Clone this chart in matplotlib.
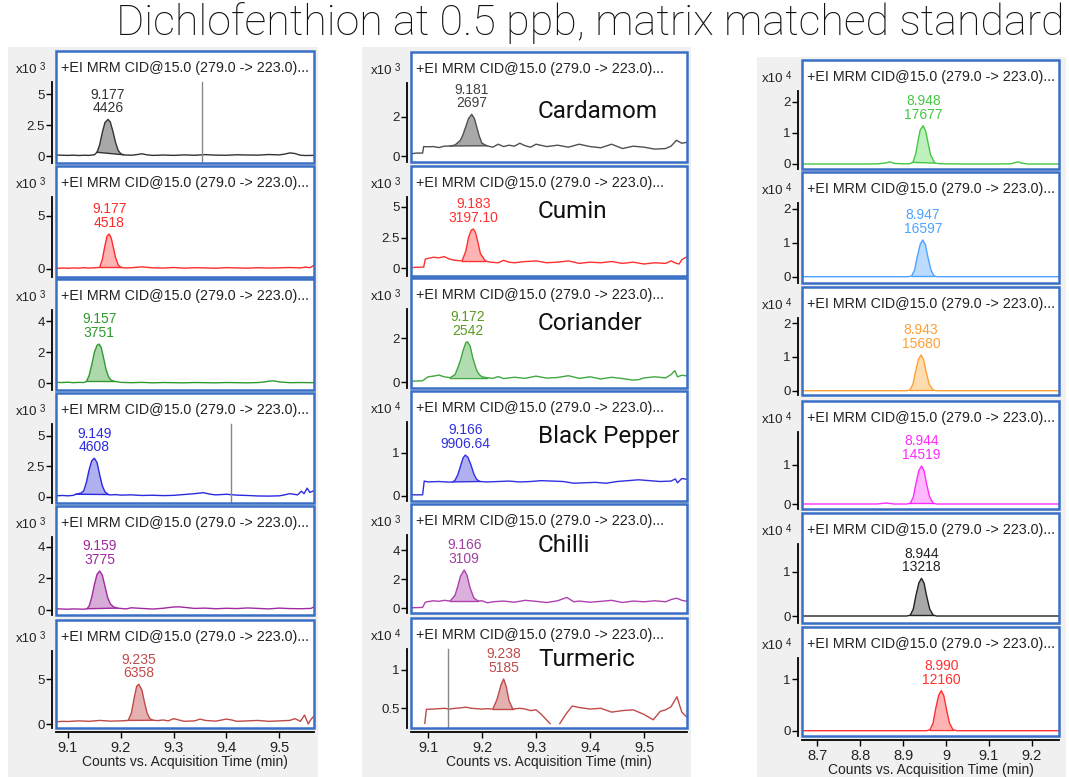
import numpy as np
import matplotlib
matplotlib.use('Agg')
import matplotlib.pyplot as plt
from matplotlib.patches import Rectangle
from matplotlib.ticker import FuncFormatter

# --------------------------------------------
# data
# left column
L1_T = [9.078, 9.09, 9.10, 9.11, 9.12, 9.13, 9.14, 9.15, 9.155, 9.16, 9.165, 9.17, 9.176, 9.18, 9.185, 9.19,
        9.195, 9.20, 9.205, 9.21, 9.22, 9.23, 9.24, 9.25, 9.26, 9.27, 9.28, 9.30, 9.32, 9.34, 9.36, 9.38, 9.40,
        9.42, 9.44, 9.46, 9.48, 9.50, 9.51, 9.52, 9.53, 9.54, 9.55, 9.566]
L1_Y = [80, 60, 50, 70, 40, 60, 50, 100, 300, 900, 1900, 2700, 2950, 2750, 2000, 1100,
        450, 180, 100, 80, 60, 110, 180, 90, 50, 60, 80, 50, 90, 60, 110, 70, 60,
        100, 80, 70, 120, 90, 150, 250, 200, 60, 40, 50]
L2_T = [9.078, 9.09, 9.10, 9.11, 9.12, 9.13, 9.14, 9.15, 9.16, 9.165, 9.17, 9.174, 9.178, 9.182, 9.186, 9.19,
        9.195, 9.20, 9.21, 9.22, 9.24, 9.26, 9.28, 9.30, 9.32, 9.34, 9.36, 9.38, 9.40, 9.42, 9.44, 9.46, 9.48,
        9.50, 9.52, 9.54, 9.55, 9.558, 9.566]
L2_Y = [60, 90, 70, 100, 80, 120, 90, 110, 150, 900, 2200, 3100, 3300, 2900, 2000, 1100,
        400, 150, 100, 120, 200, 110, 90, 140, 80, 120, 100, 70, 130, 100, 80, 120, 90,
        110, 140, 100, 180, 120, 350]
L3_T = [9.078, 9.09, 9.10, 9.11, 9.12, 9.13, 9.135, 9.14, 9.145, 9.15, 9.155, 9.159, 9.163, 9.167, 9.172,
        9.177, 9.182, 9.188, 9.195, 9.20, 9.21, 9.22, 9.24, 9.26, 9.28, 9.30, 9.32, 9.34, 9.36, 9.38, 9.40,
        9.42, 9.44, 9.46, 9.47, 9.48, 9.49, 9.50, 9.52, 9.54, 9.566]
L3_Y = [60, 50, 70, 40, 60, 50, 120, 500, 1200, 2000, 2450, 2530, 2300, 1700, 900,
        400, 200, 120, 90, 60, 50, 40, 60, 30, 50, 40, 30, 50, 40, 30, 50,
        40, 30, 50, 80, 130, 160, 90, 40, 50, 40]
L4_T = [9.078, 9.09, 9.10, 9.11, 9.115, 9.12, 9.125, 9.13, 9.135, 9.14, 9.145, 9.150, 9.155, 9.16, 9.165,
        9.17, 9.176, 9.18, 9.19, 9.20, 9.22, 9.24, 9.26, 9.28, 9.30, 9.32, 9.34, 9.356, 9.37, 9.38, 9.40,
        9.42, 9.44, 9.46, 9.48, 9.49, 9.50, 9.51, 9.52, 9.535, 9.542, 9.547, 9.553, 9.558, 9.566]
L4_Y = [80, 100, 70, 110, 200, 250, 300, 500, 1200, 2200, 2950, 3150, 2800, 1800, 900,
        400, 180, 150, 170, 130, 150, 100, 120, 90, 110, 180, 250, 330, 200, 150, 200,
        130, 100, 60, 50, 60, 70, 150, 250, 150, 450, 250, 700, 350, 500]
L5_T = [9.078, 9.09, 9.10, 9.11, 9.12, 9.13, 9.136, 9.14, 9.145, 9.15, 9.155, 9.160, 9.165, 9.17, 9.175,
        9.18, 9.186, 9.193, 9.20, 9.21, 9.22, 9.24, 9.26, 9.28, 9.30, 9.31, 9.32, 9.34, 9.36, 9.38, 9.40,
        9.42, 9.44, 9.46, 9.48, 9.50, 9.52, 9.54, 9.56, 9.566]
L5_Y = [80, 60, 50, 70, 60, 50, 80, 250, 800, 1600, 2250, 2460, 2200, 1500, 800,
        400, 200, 120, 100, 70, 140, 100, 60, 110, 190, 200, 170, 100, 120, 80, 110,
        90, 130, 100, 70, 120, 90, 80, 100, 200]
L6_T = [9.078, 9.09, 9.10, 9.12, 9.14, 9.16, 9.18, 9.20, 9.214, 9.22, 9.225, 9.23, 9.234, 9.24, 9.245, 9.25,
        9.255, 9.261, 9.27, 9.28, 9.29, 9.30, 9.31, 9.32, 9.34, 9.35, 9.36, 9.38, 9.40, 9.41, 9.42, 9.44,
        9.46, 9.48, 9.50, 9.52, 9.53, 9.54, 9.548, 9.555, 9.56, 9.566]
L6_Y = [250, 300, 280, 350, 300, 400, 320, 350, 400, 1200, 2800, 4200, 4450, 3800, 2400, 1200,
        600, 420, 380, 450, 350, 600, 450, 300, 350, 550, 400, 320, 550, 450, 300, 350,
        400, 300, 350, 400, 600, 300, 1000, 0, 500, 900]

# middle column (spice matrices)
M1_T = [9.069, 9.08, 9.09, 9.092, 9.10, 9.11, 9.12, 9.13, 9.141, 9.15, 9.16, 9.165, 9.17, 9.175, 9.181,
        9.186, 9.19, 9.195, 9.20, 9.209, 9.22, 9.23, 9.24, 9.25, 9.26, 9.27, 9.28, 9.29, 9.30, 9.32, 9.34,
        9.36, 9.38, 9.40, 9.42, 9.44, 9.46, 9.48, 9.50, 9.52, 9.54, 9.55, 9.56, 9.57, 9.58]
M1_Y = [120, 150, 150, 480, 470, 480, 430, 500, 510, 560, 800, 1100, 1500, 1900, 2120,
        1900, 1500, 1000, 650, 520, 450, 600, 480, 550, 500, 650, 520, 450, 600, 480, 550,
        450, 600, 480, 420, 600, 380, 500, 450, 350, 380, 500, 800, 650, 700]
M2_T = [9.069, 9.08, 9.092, 9.095, 9.10, 9.11, 9.12, 9.13, 9.14, 9.15, 9.163, 9.17, 9.175, 9.18, 9.184,
        9.188, 9.192, 9.197, 9.206, 9.215, 9.23, 9.24, 9.25, 9.26, 9.28, 9.30, 9.32, 9.34, 9.36, 9.38, 9.40,
        9.42, 9.44, 9.46, 9.48, 9.50, 9.52, 9.54, 9.55, 9.56, 9.565, 9.57, 9.58]
M2_Y = [60, 80, 100, 750, 800, 900, 850, 950, 750, 650, 600, 1400, 2500, 3100, 3200,
        2900, 2200, 1200, 600, 500, 450, 650, 500, 450, 550, 600, 450, 500, 600, 400, 500,
        450, 550, 400, 500, 350, 450, 400, 600, 400, 350, 700, 950]
M3_T = [9.069, 9.08, 9.09, 9.10, 9.11, 9.12, 9.13, 9.141, 9.15, 9.155, 9.16, 9.165, 9.17, 9.173, 9.178,
        9.183, 9.19, 9.195, 9.20, 9.209, 9.22, 9.23, 9.24, 9.26, 9.28, 9.30, 9.32, 9.34, 9.36, 9.38, 9.40,
        9.42, 9.44, 9.46, 9.48, 9.49, 9.50, 9.52, 9.54, 9.55, 9.557, 9.562, 9.57, 9.58]
M3_Y = [50, 60, 70, 250, 280, 330, 250, 210, 350, 650, 1000, 1450, 1800, 1845, 1650,
        1100, 550, 350, 250, 210, 180, 260, 170, 230, 180, 280, 190, 220, 300, 180, 250,
        150, 230, 170, 100, 120, 200, 250, 200, 350, 530, 250, 320, 290]
M4_T = [9.069, 9.08, 9.09, 9.093, 9.10, 9.12, 9.14, 9.146, 9.15, 9.155, 9.16, 9.165, 9.169, 9.174, 9.18,
        9.185, 9.19, 9.196, 9.21, 9.23, 9.25, 9.27, 9.29, 9.31, 9.33, 9.35, 9.37, 9.39, 9.41, 9.43, 9.45,
        9.47, 9.49, 9.51, 9.53, 9.55, 9.558, 9.562, 9.57, 9.58]
M4_Y = [200, 200, 200, 3400, 3200, 3300, 3150, 3200, 3600, 4800, 6800, 8800, 9450, 8900, 7000,
        5000, 3800, 3300, 3200, 3300, 3400, 3200, 3300, 3500, 3400, 3300, 2900, 3000, 3100, 2900, 3300,
        3500, 3700, 3500, 3300, 3400, 3900, 3000, 4000, 3800]
M5_T = [9.069, 9.08, 9.09, 9.095, 9.10, 9.11, 9.12, 9.13, 9.141, 9.15, 9.155, 9.16, 9.167, 9.172, 9.178,
        9.185, 9.193, 9.20, 9.21, 9.22, 9.24, 9.26, 9.28, 9.30, 9.32, 9.34, 9.357, 9.37, 9.38, 9.40, 9.42,
        9.44, 9.46, 9.48, 9.50, 9.52, 9.54, 9.55, 9.56, 9.57, 9.58]
M5_Y = [40, 50, 60, 420, 460, 520, 480, 550, 500, 900, 1500, 2200, 2640, 2300, 1400,
        700, 500, 520, 380, 450, 500, 420, 550, 480, 400, 520, 750, 450, 500, 420, 480,
        550, 400, 500, 450, 520, 450, 600, 700, 550, 480]
M6_T = [9.094, 9.097, 9.11, 9.12, 9.13, 9.14, 9.15, 9.16, 9.17, 9.18, 9.19, 9.20, 9.21, 9.220, 9.228,
        9.235, 9.240, 9.245, 9.25, 9.257, 9.27, 9.28, 9.29, 9.30, 9.31, 9.326, 9.335, 9.344, 9.355, 9.367,
        9.38, 9.40, 9.42, 9.44, 9.46, 9.48, 9.50, 9.517, 9.53, 9.54, 9.55, 9.561, 9.57, 9.58]
M6_Y = [3040, 4870, 4900, 4950, 5000, 4900, 5000, 5050, 5150, 5000, 4950, 4900, 4950, 4900, 6200,
        8000, 8830, 7800, 6000, 4900, 5000, 4900, 4700, 4800, 4200, 3000, np.nan, 3000, 4200, 5300,
        5100, 4900, 5000, 4500, 4700, 4800, 4200, 3500, 4600, 4800, 5200, 6500, 4500, 3800]

# right column
R1_T = [8.665, 8.70, 8.75, 8.80, 8.84, 8.86, 8.87, 8.88, 8.90, 8.915, 8.923, 8.93, 8.935, 8.94, 8.947,
        8.953, 8.958, 8.964, 8.974, 8.985, 9.00, 9.05, 9.10, 9.15, 9.16, 9.167, 9.175, 9.19, 9.22, 9.263]
R1_Y = [0, 0, 0, 0, 50, 350, 700, 200, 50, 100, 500, 3500, 7500, 11000, 12350,
        10500, 7000, 3000, 300, 100, 50, 0, 0, 50, 400, 700, 350, 0, 0, 0]
R2_T = [8.665, 8.75, 8.85, 8.90, 8.912, 8.920, 8.927, 8.933, 8.94, 8.946, 8.952, 8.958, 8.965, 8.972,
        8.98, 9.00, 9.10, 9.20, 9.263]
R2_Y = [0, 0, 0, 0, 0, 200, 2000, 5800, 9500, 10800, 9400, 5700, 2000, 200, 0, 0, 0, 0, 0]
R3_T = [8.665, 8.75, 8.85, 8.90, 8.908, 8.916, 8.923, 8.929, 8.936, 8.942, 8.948, 8.954, 8.961, 8.970,
        8.978, 9.00, 9.10, 9.20, 9.263]
R3_Y = [0, 0, 0, 0, 0, 200, 1900, 5600, 9300, 10600, 9200, 5500, 1900, 200, 0, 0, 0, 0, 0]
R4_T = [8.665, 8.75, 8.84, 8.86, 8.88, 8.90, 8.909, 8.917, 8.924, 8.930, 8.937, 8.943, 8.949, 8.955,
        8.962, 8.970, 8.978, 9.00, 9.10, 9.20, 9.263]
R4_Y = [0, 0, 0, 250, 0, 0, 0, 200, 1800, 5200, 8600, 9740, 8500, 5100, 1800, 200, 0, 0, 0, 0, 0]
R5_T = [8.665, 8.75, 8.85, 8.90, 8.909, 8.917, 8.924, 8.930, 8.937, 8.943, 8.949, 8.955, 8.962, 8.970,
        8.978, 9.00, 9.10, 9.20, 9.263]
R5_Y = [0, 0, 0, 0, 0, 200, 1600, 4600, 7500, 8500, 7400, 4500, 1600, 200, 0, 0, 0, 0, 0]
R6_T = [8.665, 8.75, 8.85, 8.90, 8.95, 8.955, 8.963, 8.970, 8.976, 8.983, 8.989, 8.995, 9.001, 9.008,
        9.016, 9.025, 9.05, 9.10, 9.20, 9.263]
R6_Y = [0, 0, 0, 0, 0, 0, 200, 1500, 4300, 6900, 7800, 6800, 4200, 1500, 200, 0, 0, 0, 0, 0]

# integration windows, peak labels
L_WIN = [(9.155, 9.205), (9.16, 9.20), (9.135, 9.188), (9.115, 9.176), (9.136, 9.193), (9.214, 9.261)]
M_WIN = [(9.141, 9.209), (9.163, 9.206), (9.141, 9.209), (9.146, 9.196), (9.141, 9.193), (9.220, 9.257)]
R_WIN = [(8.923, 8.974), (8.920, 8.972), (8.916, 8.970), (8.917, 8.970), (8.917, 8.970), (8.963, 9.016)]
L_RT = ['9.177', '9.177', '9.157', '9.149', '9.159', '9.235']
L_AREA = ['4426', '4518', '3751', '4608', '3775', '6358']
M_RT = ['9.181', '9.183', '9.172', '9.166', '9.166', '9.238']
M_AREA = ['2697', '3197.10', '2542', '9906.64', '3109', '5185']
R_RT = ['8.948', '8.947', '8.943', '8.944', '8.944', '8.990']
R_AREA = ['17677', '16597', '15680', '14519', '13218', '12160']
SPICES = ['Cardamom', 'Cumin', 'Coriander', 'Black Pepper', 'Chilli', 'Turmeric']
MARKERS = {(0, 0): 9.354, (0, 3): 9.409, (1, 5): 9.137}

TITLE = 'Dichlofenthion at 0.5 ppb, matrix matched standard'
PANEL_TITLE = '+EI MRM CID@15.0 (279.0 -> 223.0)...'
XLABEL = 'Counts vs. Acquisition Time (min)'

# --------------------------------------------
# layout (pixels of the 1069x777 picture)
W, H = 1069, 777
FRAME = '#3a6fc6'
GREY = '#f0f0f0'
TXT = '#222222'

columns = [
    dict(x=(56, 314), xlim=(9.0773, 9.5659), xticks=[9.1, 9.2, 9.3, 9.4, 9.5],
         rows=[(51, 163), (166, 277), (279, 390), (393, 503), (506, 615), (620, 728)],
         data=[(L1_T, L1_Y), (L2_T, L2_Y), (L3_T, L3_Y), (L4_T, L4_Y), (L5_T, L5_Y), (L6_T, L6_Y)],
         win=L_WIN, rt=L_RT, area=L_AREA,
         exp=[3, 3, 3, 3, 3, 3],
         yticks=[[0, 2500, 5000], [0, 5000], [0, 2000, 4000], [0, 2500, 5000], [0, 2000, 4000], [0, 5000]],
         ylim=[(-564, 8468), (-755, 9717), (-432, 6729), (-516, 8500), (-315, 6562), (-447, 11633)],
         colors=[('#333333', '#a8a8a8', '#333333'), ('#ff2a2a', '#ffb4b4', '#ff2a2a'),
                 ('#2e9a2e', '#acd8ac', '#2e9a2e'), ('#2a2ae0', '#b0b0f0', '#2a2ae0'),
                 ('#a02aa0', '#d8acd8', '#a02aa0'), ('#c04a4a', '#e4b0b0', '#c04a4a')],
         grey=(8, 318, 47), xlab_y=762),
    dict(x=(411, 687), xlim=(9.0685, 9.5796), xticks=[9.1, 9.2, 9.3, 9.4, 9.5],
         rows=[(52, 162), (166, 276), (278, 388), (391, 501), (504, 613), (618, 728)],
         data=[(M1_T, M1_Y), (M2_T, M2_Y), (M3_T, M3_Y), (M4_T, M4_Y), (M5_T, M5_Y), (M6_T, M6_Y)],
         win=M_WIN, rt=M_RT, area=M_AREA,
         exp=[3, 3, 3, 4, 3, 4],
         yticks=[[0, 2000], [0, 2500, 5000], [0, 2000], [0, 10000], [0, 2000, 4000], [5000, 10000]],
         ylim=[(-305, 5293), (-627, 8327), (-259, 4745), (-1233, 24349), (-324, 7196), (2429, 16784)],
         colors=[('#505050', '#a8a8a8', '#404040'), ('#ff3030', '#ffb4b4', '#ff3030'),
                 ('#40a840', '#b0dcb0', '#5a9a20'), ('#3030e0', '#b0b0f0', '#3030e0'),
                 ('#b040b0', '#dcb0dc', '#a040a0'), ('#c04a4a', '#e4b0b0', '#c04a4a')],
         grey=(362, 691, 47), xlab_y=762),
    dict(x=(802, 1059), xlim=(8.6651, 9.2628), xticks=[8.7, 8.8, 8.9, 9.0, 9.1, 9.2],
         rows=[(60, 169), (172, 283), (287, 395), (401, 509), (513, 623), (627, 736)],
         data=[(R1_T, R1_Y), (R2_T, R2_Y), (R3_T, R3_Y), (R4_T, R4_Y), (R5_T, R5_Y), (R6_T, R6_Y)],
         win=R_WIN, rt=R_RT, area=R_AREA,
         exp=[4, 4, 4, 4, 4, 4],
         yticks=[[0, 10000, 20000], [0, 10000, 20000], [0, 10000, 20000], [0, 10000], [0, 10000], [0, 10000]],
         ylim=[(-1613, 33548), (-1853, 30794), (-1276, 30769), (-1282, 26410), (-1580, 23250), (-1033, 20214)],
         colors=[('#44c844', '#bdf0bd', '#44c844'), ('#4da3ff', '#bcdcff', '#4da3ff'),
                 ('#ffa034', '#ffdcb0', '#ffa034'), ('#ff2aff', '#ffb8ff', '#ff2aff'),
                 ('#222222', '#a8a8a8', '#222222'), ('#ff3030', '#ffb4b4', '#ff3030')],
         grey=(757, 1066, 57), xlab_y=770),
]
SPICE_Y = [112, 212, 323, 436, 546, 659]


def fx(px):
    return px / W


def fy(py):
    return 1 - py / H


def tick_fmt(e):
    return FuncFormatter(lambda v, pos: f'{v / 10 ** e:g}')


def main():
    plt.rcParams['font.family'] = ['Liberation Sans', 'DejaVu Sans']
    fig = plt.figure(figsize=(W / 100, H / 100), dpi=100)

    for ci, col in enumerate(columns):
        gx0, gx1, gy0 = col['grey']
        fig.patches.append(Rectangle((fx(gx0), 0), fx(gx1 - gx0), fy(gy0), transform=fig.transFigure,
                                     facecolor=GREY, edgecolor='none', zorder=-5))
        x0, x1 = col['x']
        n = len(col['rows'])
        for ri, (top, bot) in enumerate(col['rows']):
            ax = fig.add_axes([fx(x0), fy(bot), fx(x1 - x0), (bot - top) / H])
            ax.set_facecolor('white')
            t, y = np.array(col['data'][ri][0]), np.array(col['data'][ri][1], dtype=float)
            line_c, fill_c, txt_c = col['colors'][ri]
            ylo, yhi = col['ylim'][ri]
            ax.set_xlim(*col['xlim'])
            ax.set_ylim(ylo, yhi)

            # trace + integrated peak
            ax.plot(t, y, color=line_c, lw=1.0, zorder=3)
            a, b = col['win'][ri]
            m = (t >= a - 1e-6) & (t <= b + 1e-6)
            ax.fill(t[m], y[m], color=fill_c, lw=0, zorder=2)
            ax.plot([t[m][0], t[m][-1]], [y[m][0], y[m][-1]], color=line_c, lw=1.0, zorder=3)
            k = np.nanargmax(np.where(m, y, np.nan))
            ax.annotate(col['rt'][ri] + '\n' + col['area'][ri], xy=(t[k], y[k]), xytext=(0, 3),
                        textcoords='offset points', ha='center', va='bottom', fontsize=10,
                        color=txt_c, linespacing=0.95, zorder=4)

            # y axis: black spine outside the blue frame
            h_px = bot - top
            spine_hi = ylo + (yhi - ylo) * (1 - 31 / h_px)
            for s in ['top', 'right', 'bottom']:
                ax.spines[s].set_visible(False)
            ax.spines['left'].set_position(('outward', 3))
            ax.spines['left'].set_bounds(ylo, spine_hi)
            ax.spines['left'].set_linewidth(1.3)
            ax.set_yticks(col['yticks'][ri])
            ax.yaxis.set_major_formatter(tick_fmt(col['exp'][ri]))
            ax.tick_params(axis='y', direction='out', length=4, width=1, labelsize=9.5,
                           labelcolor=TXT, pad=1)

            if (ci, ri) in MARKERS:
                xm = MARKERS[(ci, ri)]
                ax.plot([xm, xm], [ylo, spine_hi], color='#888888', lw=1.0, zorder=3)

            # blue frame
            ax.add_patch(Rectangle((0, 0), 1, 1, transform=ax.transAxes, fill=False,
                                   edgecolor=FRAME, lw=1.8, clip_on=False, zorder=6))

            # texts around the panel
            fig.text(fx(x0 + 5), fy(top + 17), PANEL_TITLE, ha='left', va='center',
                     fontsize=10.3, color=TXT)
            fig.text(fx(x0 - 19), fy(top + 19), 'x10', ha='right', va='center', fontsize=9.5, color=TXT)
            fig.text(fx(x0 - 16), fy(top + 16), str(col['exp'][ri]), ha='left', va='center',
                     fontsize=7, color=TXT)

            if ri == n - 1:
                ax.spines['bottom'].set_visible(True)
                ax.spines['bottom'].set_position(('outward', 3))
                ax.spines['bottom'].set_linewidth(1.3)
                ax.set_xticks(col['xticks'])
                ax.xaxis.set_major_formatter(FuncFormatter(lambda v, pos: f'{v:g}'))
                ax.tick_params(axis='x', direction='out', length=4, width=1, labelsize=10.5,
                               labelcolor=TXT, pad=2)
                fig.text(fx((x0 + x1) / 2), fy(col['xlab_y']), XLABEL, ha='center', va='center',
                         fontsize=10, color=TXT)
            else:
                ax.set_xticks([])

            if ci == 1:
                fig.text(fx(538), fy(SPICE_Y[ri]), SPICES[ri], ha='left', va='center',
                         fontsize=17.5, family='Roboto', color='#111111')

    fig.text(fx(1065), fy(23), TITLE, ha='right', va='center', fontsize=31,
             family='Roboto', fontweight='light', color='#111111')

    fig.savefig('out.png', dpi=100, facecolor='white')


if __name__ == '__main__':
    main()
